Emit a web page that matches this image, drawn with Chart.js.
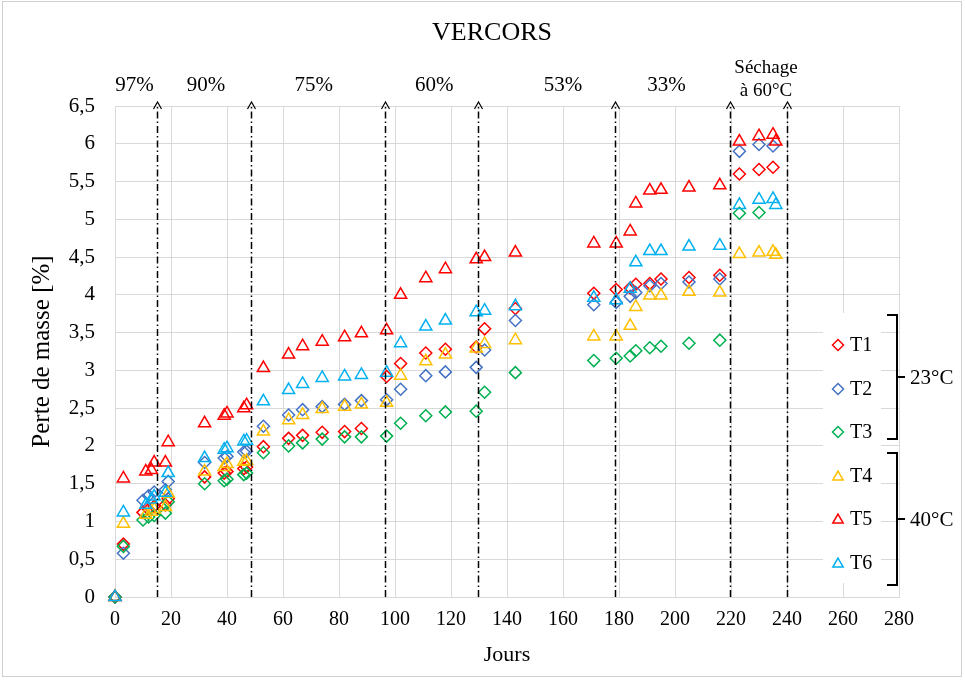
<!DOCTYPE html>
<html>
<head>
<meta charset="utf-8">
<script src="https://cdn.jsdelivr.net/npm/chart.js@4.4.0/dist/chart.umd.min.js"></script>
<style>
  html, body { margin: 0; padding: 0; background: #fff; }
  #wrap { width: 965px; height: 680px; }
</style>
</head>
<body>
<div id="wrap"><canvas id="vercors" width="965" height="680"></canvas></div>
<script>
// Jours de mesure (23°C : T1-T3, 40°C : T4-T6)
const days23 = [0, 3, 10, 12, 14, 18, 19, 32, 39, 40, 46, 47, 53, 62, 67, 74, 82, 88, 97, 102, 111, 118, 129, 132, 143, 171, 179, 184, 186, 191, 195, 205, 216, 223, 230, 235];
const days40 = [0, 3, 11, 13, 14, 18, 19, 32, 39, 40, 46, 47, 53, 62, 67, 74, 82, 88, 97, 102, 111, 118, 129, 132, 143, 171, 179, 184, 186, 191, 195, 205, 216, 223, 230, 235, 236];

// Perte de masse [%]
const t1 = [0, 0.70, 1.12, 1.16, 1.20, 1.22, 1.30, 1.59, 1.64, 1.66, 1.70, 1.72, 1.99, 2.10, 2.14, 2.18, 2.19, 2.23, 2.92, 3.09, 3.23, 3.28, 3.31, 3.55, 3.82, 4.02, 4.07, 4.09, 4.14, 4.15, 4.21, 4.23, 4.26, 5.60, 5.66, 5.69];
const t2 = [0, 0.58, 1.28, 1.34, 1.39, 1.42, 1.53, 1.78, 1.84, 1.86, 1.92, 1.93, 2.26, 2.41, 2.48, 2.52, 2.55, 2.60, 2.61, 2.75, 2.93, 2.98, 3.04, 3.27, 3.66, 3.87, 3.90, 3.98, 4.03, 4.12, 4.15, 4.17, 4.21, 5.90, 5.99, 5.97];
const t3 = [0, 0.67, 1.02, 1.06, 1.08, 1.11, 1.26, 1.50, 1.54, 1.56, 1.62, 1.64, 1.91, 2.00, 2.04, 2.09, 2.12, 2.12, 2.13, 2.30, 2.40, 2.45, 2.46, 2.71, 2.97, 3.13, 3.16, 3.19, 3.26, 3.30, 3.32, 3.36, 3.40, 5.08, 5.09, null];
const t4 = [0, 0.97, 1.09, 1.13, 1.16, 1.19, 1.37, 1.66, 1.72, 1.76, 1.79, 1.80, 2.19, 2.34, 2.41, 2.49, 2.52, 2.55, 2.57, 2.93, 3.12, 3.21, 3.29, 3.35, 3.40, 3.45, 3.45, 3.59, 3.84, 3.99, 3.99, 4.04, 4.03, 4.54, 4.56, 4.57, 4.53];
const t5 = [0, 1.57, 1.66, 1.68, 1.78, 1.78, 2.05, 2.30, 2.40, 2.43, 2.50, 2.54, 3.03, 3.21, 3.32, 3.38, 3.44, 3.49, 3.53, 4.00, 4.22, 4.34, 4.47, 4.50, 4.56, 4.68, 4.68, 4.84, 5.21, 5.38, 5.39, 5.42, 5.45, 6.03, 6.10, 6.12, 6.03];
const t6 = [0, 1.12, 1.22, 1.29, 1.33, 1.38, 1.64, 1.84, 1.95, 1.97, 2.06, 2.07, 2.59, 2.74, 2.82, 2.90, 2.92, 2.94, 2.97, 3.36, 3.58, 3.66, 3.77, 3.79, 3.85, 3.96, 3.93, 4.08, 4.43, 4.58, 4.58, 4.64, 4.65, 5.19, 5.26, 5.27, 5.19];

// Changements d'humidité relative (jours) et étiquettes
const phaseDays = [15, 48.5, 96.5, 129.5, 178.5, 219.5, 240];
const phaseLabels = ['97%', '90%', '75%', '60%', '53%', '33%', ['Séchage', 'à 60°C']];
const phaseLabelDays = [7, 32.5, 71, 114, 160, 197, 232.5];

const serif = "'Liberation Serif', 'Times New Roman', serif";

function pts(days, vals) {
  return days.map((d, i) => ({ x: d, y: vals[i] })).filter(p => p.y !== null);
}

const series = [
  { label: 'T1', data: pts(days23, t1), color: '#FF0000', style: 'rectRot', r: 6 },
  { label: 'T2', data: pts(days23, t2), color: '#4472C4', style: 'rectRot', r: 6 },
  { label: 'T3', data: pts(days23, t3), color: '#00B050', style: 'rectRot', r: 6 },
  { label: 'T4', data: pts(days40, t4), color: '#FFC000', style: 'triangle', r: 7 },
  { label: 'T5', data: pts(days40, t5), color: '#FF0000', style: 'triangle', r: 7 },
  { label: 'T6', data: pts(days40, t6), color: '#00B0F0', style: 'triangle', r: 7 }
];

const decor = {
  id: 'decor',
  beforeDraw(chart) {
    const ctx = chart.ctx;
    ctx.save();
    ctx.fillStyle = '#fff';
    ctx.fillRect(0, 0, chart.width, chart.height);
    ctx.restore();
  },
  afterDatasetsDraw(chart) {
    const { ctx, chartArea } = chart;
    const x = chart.scales.x;
    ctx.save();
    ctx.strokeStyle = '#000';
    ctx.lineWidth = 1.5;
    phaseDays.forEach(d => {
      const px = Math.round(x.getPixelForValue(d)) + 0.5;
      const top = chartArea.top - 4;
      ctx.setLineDash([7, 3, 1.5, 3]);
      ctx.beginPath();
      ctx.moveTo(px, chartArea.bottom);
      ctx.lineTo(px, top + 2);
      ctx.stroke();
      ctx.setLineDash([]);
      ctx.lineWidth = 1.2;
      ctx.beginPath();
      ctx.moveTo(px - 4, top + 7);
      ctx.lineTo(px, top);
      ctx.lineTo(px + 4, top + 7);
      ctx.stroke();
      ctx.lineWidth = 1.5;
    });

    // étiquettes d'humidité
    ctx.fillStyle = '#000';
    ctx.textAlign = 'center';
    ctx.textBaseline = 'middle';
    phaseLabels.forEach((t, i) => {
      const px = x.getPixelForValue(phaseLabelDays[i]);
      if (Array.isArray(t)) {
        ctx.font = '19px ' + serif;
        ctx.fillText(t[0], px, 68);
        ctx.fillText(t[1], px, 91);
      } else {
        ctx.font = '21px ' + serif;
        ctx.fillText(t, px, 85);
      }
    });

    // titre
    ctx.font = '26px ' + serif;
    ctx.fillText('VERCORS', 492, 33);
    ctx.restore();
  },
  afterDraw(chart) {
    const ctx = chart.ctx;
    ctx.save();
    // légende
    ctx.fillStyle = '#fff';
    ctx.fillRect(823, 313, 58, 270);
    const rows = [345, 389, 432, 476, 519, 563];
    ctx.font = '20px ' + serif;
    ctx.textAlign = 'left';
    ctx.textBaseline = 'middle';
    series.forEach((s, i) => {
      ctx.strokeStyle = s.color;
      ctx.fillStyle = 'rgba(0,0,0,0)';
      ctx.lineWidth = 1.5;
      Chart.helpers.drawPoint(ctx, { pointStyle: s.style, radius: s.style === 'triangle' ? 6 : 5.5, borderWidth: 1.5 }, 838, rows[i] + (s.style === 'triangle' ? 1 : 0));
      ctx.fillStyle = '#000';
      ctx.fillText(s.label, 850, rows[i] + 1);
    });

    // accolades
    ctx.strokeStyle = '#000';
    ctx.lineWidth = 2;
    ctx.font = '21px ' + serif;
    [[315, 439, '23°C'], [453, 585, '40°C']].forEach(([a, b, txt]) => {
      const m = (a + b) / 2;
      ctx.beginPath();
      ctx.moveTo(887, a);
      ctx.lineTo(897, a);
      ctx.lineTo(897, b);
      ctx.lineTo(887, b);
      ctx.moveTo(897, m);
      ctx.lineTo(905, m);
      ctx.stroke();
      ctx.fillStyle = '#000';
      ctx.fillText(txt, 910, m + 1);
    });

    // cadre
    ctx.strokeStyle = '#d0d0d0';
    ctx.lineWidth = 1;
    ctx.strokeRect(2.5, 1.5, 959, 675);
    ctx.restore();
  }
};

new Chart(document.getElementById('vercors'), {
  type: 'scatter',
  data: {
    datasets: series.map((s, i) => ({
      label: s.label,
      data: s.data,
      pointStyle: s.style,
      pointRadius: s.r,
      pointHoverRadius: s.r,
      pointBorderWidth: 1.5,
      pointBorderColor: s.color,
      pointBackgroundColor: 'rgba(0,0,0,0)',
      borderColor: s.color,
      showLine: false,
      clip: false,
      order: series.length - i
    }))
  },
  options: {
    responsive: false,
    animation: false,
    layout: { padding: { left: 0, top: 106, right: 66, bottom: 0 } },
    plugins: {
      legend: { display: false },
      tooltip: { enabled: false }
    },
    scales: {
      x: {
        type: 'linear',
        min: 0,
        max: 280,
        afterFit(scale) { scale.height = 83; },
        ticks: {
          stepSize: 20,
          padding: 11,
          color: '#000',
          font: { family: serif, size: 20 }
        },
        grid: { color: '#d9d9d9', drawTicks: false },
        border: { color: '#d9d9d9' },
        title: {
          display: true,
          text: 'Jours',
          color: '#000',
          font: { family: serif, size: 22 },
          padding: { top: 0, bottom: 12 }
        }
      },
      y: {
        min: 0,
        max: 6.5,
        afterFit(scale) { scale.width = 115; },
        ticks: {
          stepSize: 0.5,
          padding: 20,
          color: '#000',
          font: { family: serif, size: 21 },
          callback: v => String(v).replace('.', ',')
        },
        grid: { color: '#d9d9d9', drawTicks: false },
        border: { color: '#d9d9d9' },
        title: {
          display: true,
          text: 'Perte de masse [%]',
          color: '#000',
          font: { family: serif, size: 25 },
          padding: { top: 27, bottom: 0 }
        }
      }
    }
  },
  plugins: [decor]
});
</script>
</body>
</html>
